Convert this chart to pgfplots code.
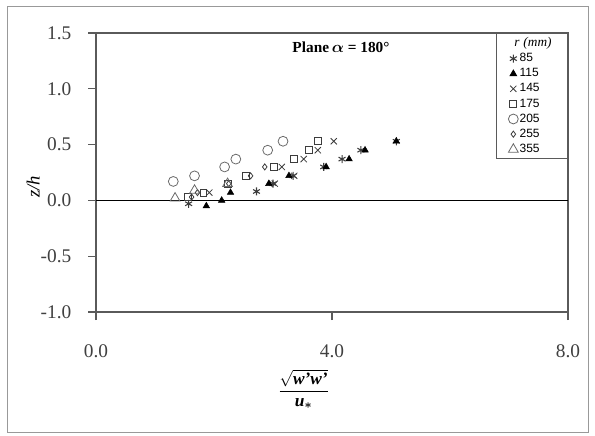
\documentclass[border=0pt]{standalone}
\usepackage{fontspec}
\setmainfont{Liberation Serif}
\newfontfamily\legfont{Liberation Sans}
\usepackage{amsmath}
\usepackage{pgfplots}
\pgfplotsset{compat=1.18}
\definecolor{axgray}{HTML}{5A5A5A}
\definecolor{mk}{HTML}{3C3C3C}
\definecolor{mklight}{HTML}{6A6A6A}
\begin{document}
\begin{tikzpicture}
\begin{axis}[
    scale only axis,
    width=354pt, height=209.25pt,
    xmin=0, xmax=8, ymin=-1, ymax=1.5,
    xtick={0,4,8},
    ytick={-1,-0.5,0,0.5,1,1.5},
    tick align=outside,
    tick pos=left,
    major tick length=6pt,
    axis line style={axgray, line width=0.8pt},
    every tick/.style={axgray, line width=0.8pt},
    ticklabel style={font=\fontsize{14.5}{16}\selectfont, text=black!75},
    xticklabel style={yshift=-15pt},
    yticklabel style={xshift=-9pt},
    /pgf/number format/.cd, fixed, fixed zerofill, precision=1, assume math mode=true,
    /pgfplots/.cd,
    xlabel={\fontsize{13}{15}\selectfont$\dfrac{\sqrt{\text{\textbf{\textit{w'w'}}}}}{\text{\textbf{\textit{u}}}_{\boldsymbol{*}}}$},
    xlabel style={at={(axis cs:3.52,-1)}, anchor=center, yshift=-58pt},
    ylabel={\fontsize{14}{16}\selectfont\textit{z/h}},
    ylabel style={at={(rel axis cs:0,0.448)}, anchor=center, yshift=47pt},
    legend style={at={(rel axis cs:1,1)}, anchor=north east, draw=axgray, line width=0.6pt,
        font=\legfont\fontsize{9}{10}\selectfont, row sep=1.6pt, inner xsep=4pt, inner ysep=2pt,
        nodes={inner sep=1pt, text width=31pt}},
    legend cell align=left,
    clip=false,
]
\coordinate (SW) at (rel axis cs:0,0);
\coordinate (NE) at (rel axis cs:1,1);
\addlegendimage{empty legend}
\addlegendentry{\hspace{-4pt}\textrm{\fontsize{10}{11}\selectfont\textit{r (mm)}}}
% r = 85
\addplot[only marks, mark=asterisk, mark size=3pt, mark options={mk, line width=0.8pt}] coordinates {
    (1.57,-0.03) (2.72,0.08) (3.00,0.15) (3.34,0.22) (3.86,0.30)
    (4.17,0.37) (4.49,0.45) (5.09,0.53)
};
\addlegendentry{85}
% r = 115
\addplot[only marks, mark=triangle*, mark size=2.8pt, mark options={black}] coordinates {
    (1.87,-0.05) (2.13,0.00) (2.28,0.07) (2.93,0.15) (3.27,0.22)
    (3.90,0.30) (4.29,0.37) (4.56,0.45) (5.09,0.53)
};
\addlegendentry{115}
% r = 145
\addplot[only marks, mark=x, mark size=3.3pt, mark options={mk, line width=0.6pt}] coordinates {
    (1.92,0.07) (3.03,0.15) (3.36,0.22) (3.15,0.30) (3.52,0.37)
    (3.76,0.45) (4.03,0.53)
};
\addlegendentry{145}
% r = 175
\addplot[only marks, mark=square, mark size=2.6pt, mark options={mk, line width=0.6pt}] coordinates {
    (1.55,0.03) (1.82,0.07) (2.23,0.15) (2.54,0.22) (3.01,0.30)
    (3.35,0.37) (3.61,0.45) (3.76,0.53)
};
\addlegendentry{175}
% r = 205
\addplot[only marks, mark=o, mark size=3.7pt, mark options={mklight, line width=0.6pt}] coordinates {
    (1.31,0.17) (1.67,0.22) (2.18,0.30) (2.37,0.37) (2.91,0.45) (3.17,0.53)
};
\addlegendentry{205}
% r = 255
\addplot[only marks, mark=diamond, mark size=2.3pt, mark options={mk, line width=0.6pt}] coordinates {
    (1.62,0.03) (1.72,0.07) (2.25,0.15) (2.62,0.22) (2.86,0.30)
};
\addlegendentry{255}
% r = 355
\addplot[only marks, mark=triangle, mark size=4.2pt, mark options={mklight, line width=0.6pt}] coordinates {
    (1.34,0.02) (1.67,0.09) (2.23,0.15)
};
\addlegendentry{355}
\addplot[black, line width=1.3pt, forget plot] coordinates {(0,0) (8,0)};
\node[anchor=west, font=\bfseries\fontsize{11.5}{13}\selectfont] at (axis cs:3.25,1.37) {Plane$\,\boldsymbol{\alpha}$ = 180°};
\end{axis}
\draw[gray!80, line width=0.6pt] ([shift={(-66.75pt,-90pt)}]SW) rectangle ([shift={(15pt,20.25pt)}]NE);
\pgfresetboundingbox
\path ([shift={(-72pt,-92.25pt)}]SW) rectangle ([shift={(20.25pt,24.75pt)}]NE);
\end{tikzpicture}
\end{document}
